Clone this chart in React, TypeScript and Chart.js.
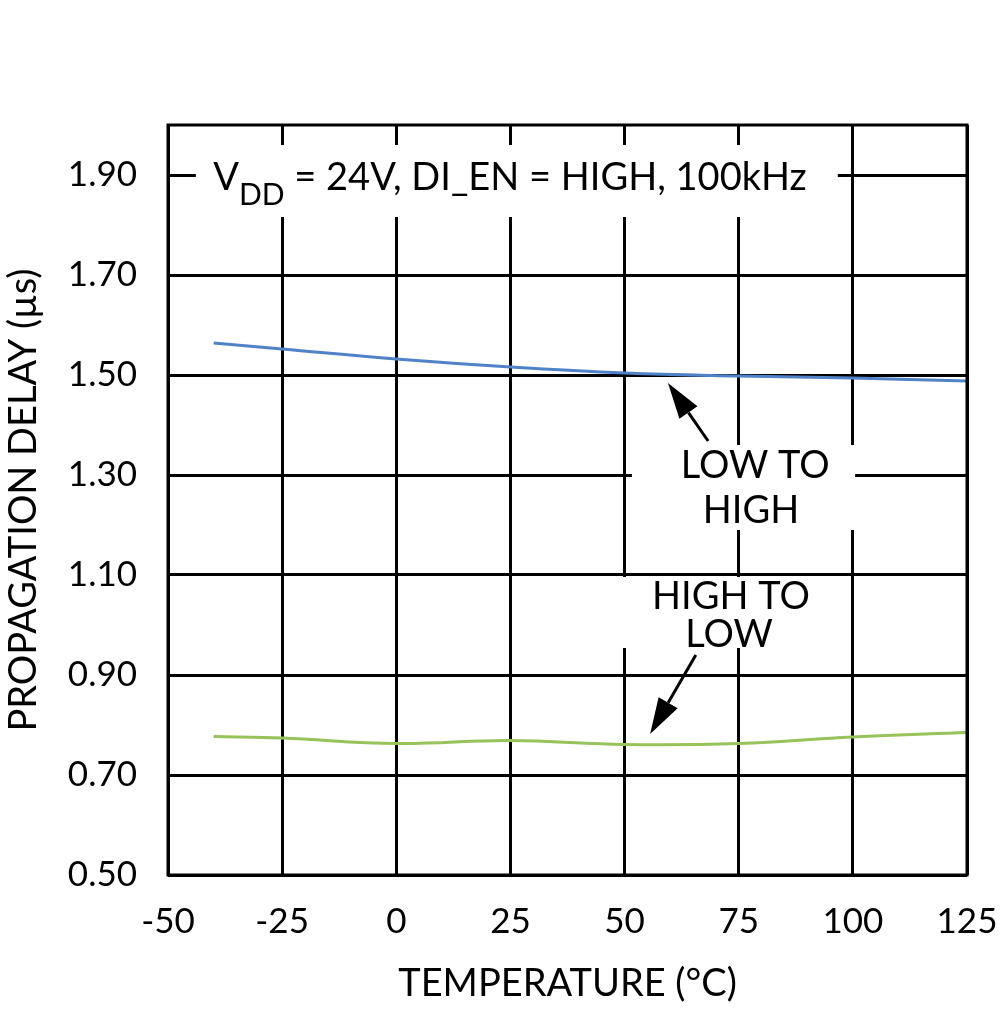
import React, { useEffect, useRef } from "react";
import { Chart, registerables } from "chart.js";

Chart.register(...registerables);

const xTicks = [-50, -25, 0, 25, 50, 75, 100, 125];
const yTicks = [0.5, 0.7, 0.9, 1.1, 1.3, 1.5, 1.7, 1.9];

const lowToHighTemps = [-40, -25, 0, 25, 50, 75, 100, 125];
const lowToHighValues = [1.564, 1.552, 1.532, 1.516, 1.504, 1.498, 1.494, 1.488];

const highToLowTemps = [-40, -25, 0, 25, 50, 75, 100, 125];
const highToLowValues = [0.777, 0.774, 0.763, 0.769, 0.761, 0.763, 0.776, 0.785];

const xTitle = "TEMPERATURE (°C)";
const yTitle = "PROPAGATION DELAY (µs)";

// annotation layout (data coordinates)
const whiteBoxes = [
  { x0: -43.9, x1: 96.7, y0: 1.816, y1: 1.96 },
  { x0: 51.6, x1: 100.5, y0: 1.19, y1: 1.36 },
  { x0: 46.4, x1: 96.1, y0: 0.954, y1: 1.096 },
];
const labels = [
  { text: "LOW TO", x: 78.6, y: 1.294 },
  { text: "HIGH", x: 77.7, y: 1.204 },
  { text: "HIGH TO", x: 73.3, y: 1.032 },
  { text: "LOW", x: 72.9, y: 0.956 },
];
const arrows = [
  { fromX: 68.3, fromY: 1.368, toX: 59.5, toY: 1.484 },
  { fromX: 65.6, fromY: 0.94, toX: 55.6, toY: 0.782 },
];
const condition = { x: -40.1, y: 1.87, main: "V", sub: "DD", rest: " = 24V, DI_EN = HIGH, 100kHz" };

const FONT = "Lato, 'Open Sans', sans-serif";
const FS = 35;
const LS = 38;

export default function App() {
  const ref = useRef<HTMLCanvasElement>(null);
  useEffect(() => {
    document.body.style.margin = "0";
    const canvas = ref.current!;
    const annot = {
      id: "annot",
      beforeDatasetsDraw(chart: any) {
        const { ctx, scales } = chart;
        const xs = scales.x, ys = scales.y;
        ctx.save();
        ctx.fillStyle = "#ffffff";
        for (const b of whiteBoxes) {
          const l = xs.getPixelForValue(b.x0), r = xs.getPixelForValue(b.x1);
          const t = ys.getPixelForValue(b.y1), bt = ys.getPixelForValue(b.y0);
          ctx.fillRect(l, t, r - l, bt - t);
        }
        ctx.restore();
      },
      afterDatasetsDraw(chart: any) {
        const { ctx, scales, chartArea } = chart;
        const xs = scales.x, ys = scales.y;
        ctx.save();
        ctx.strokeStyle = "#000";
        ctx.lineWidth = 3;
        ctx.strokeRect(chartArea.left, chartArea.top, chartArea.right - chartArea.left, chartArea.bottom - chartArea.top);
        ctx.fillStyle = "#000";
        ctx.font = `${LS}px ${FONT}`;
        ctx.textAlign = "center";
        ctx.textBaseline = "alphabetic";
        for (const lb of labels) {
          ctx.fillText(lb.text, xs.getPixelForValue(lb.x), ys.getPixelForValue(lb.y));
        }
        ctx.textAlign = "left";
        let cx = xs.getPixelForValue(condition.x);
        const cy = ys.getPixelForValue(condition.y);
        ctx.fillText(condition.main, cx, cy);
        cx += ctx.measureText(condition.main).width;
        ctx.font = `${Math.round(LS * 0.8)}px ${FONT}`;
        ctx.fillText(condition.sub, cx, cy + 15);
        cx += ctx.measureText(condition.sub).width;
        ctx.font = `${LS}px ${FONT}`;
        ctx.fillText(condition.rest, cx, cy);
        for (const a of arrows) {
          const x1 = xs.getPixelForValue(a.fromX), y1 = ys.getPixelForValue(a.fromY);
          const x2 = xs.getPixelForValue(a.toX), y2 = ys.getPixelForValue(a.toY);
          const ang = Math.atan2(y2 - y1, x2 - x1);
          const headLen = 36, headW = 11;
          const bx = x2 - headLen * Math.cos(ang), by = y2 - headLen * Math.sin(ang);
          ctx.strokeStyle = "#000";
          ctx.lineWidth = 3;
          ctx.beginPath();
          ctx.moveTo(x1, y1);
          ctx.lineTo(bx, by);
          ctx.stroke();
          ctx.beginPath();
          ctx.moveTo(x2, y2);
          ctx.lineTo(bx + headW * Math.sin(ang), by - headW * Math.cos(ang));
          ctx.lineTo(bx - headW * Math.sin(ang), by + headW * Math.cos(ang));
          ctx.closePath();
          ctx.fillStyle = "#000";
          ctx.fill();
        }
        ctx.restore();
      },
    };

    const chart = new Chart(canvas, {
      type: "line",
      data: {
        datasets: [
          {
            label: "LOW TO HIGH",
            data: lowToHighTemps.map((t, i) => ({ x: t, y: lowToHighValues[i] })),
            borderColor: "#4f82c6",
            borderWidth: 3,
            pointRadius: 0,
            tension: 0.4,
            fill: false,
          },
          {
            label: "HIGH TO LOW",
            data: highToLowTemps.map((t, i) => ({ x: t, y: highToLowValues[i] })),
            borderColor: "#98c25a",
            borderWidth: 3,
            pointRadius: 0,
            tension: 0.4,
            fill: false,
          },
        ],
      },
      options: {
        responsive: false,
        animation: false,
        devicePixelRatio: 1,
        layout: { padding: { top: 125, right: 33, left: 0, bottom: 0 } },
        plugins: { legend: { display: false }, tooltip: { enabled: false } },
        scales: {
          x: {
            type: "linear",
            min: -50,
            max: 125,
            afterFit: (s: any) => { s.height = 135; s.paddingLeft = 0; s.paddingRight = 0; },
            afterBuildTicks: (s: any) => { s.ticks = xTicks.map((v) => ({ value: v })); },
            grid: { color: "#000", lineWidth: 3, drawTicks: false },
            border: { display: false },
            ticks: {
              color: "#000",
              font: { family: FONT, size: FS },
              padding: 26,
              maxRotation: 0,
              callback: (v: any) => String(v),
            },
            title: {
              display: true,
              text: xTitle,
              color: "#000",
              font: { family: FONT, size: LS },
              padding: { bottom: 3, top: 0 },
            },
          },
          y: {
            type: "linear",
            min: 0.5,
            max: 2.0,
            afterFit: (s: any) => { s.width = 168; s.paddingTop = 0; s.paddingBottom = 0; },
            afterBuildTicks: (s: any) => { s.ticks = yTicks.map((v) => ({ value: v })); },
            grid: { color: "#000", lineWidth: 3, drawTicks: false },
            border: { display: false },
            ticks: {
              color: "#000",
              font: { family: FONT, size: FS },
              padding: 31,
              callback: (v: any) => Number(v).toFixed(2),
            },
            title: {
              display: true,
              text: yTitle,
              color: "#000",
              font: { family: FONT, size: LS },
              padding: { top: 1, bottom: 0 },
            },
          },
        },
      },
      plugins: [annot],
    });
    return () => chart.destroy();
  }, []);
  return (
    <div style={{ width: 1000, height: 1010, position: "relative", background: "#fff" }}>
      <canvas ref={ref} width={1000} height={1010} style={{ display: "block" }} />
    </div>
  );
}
